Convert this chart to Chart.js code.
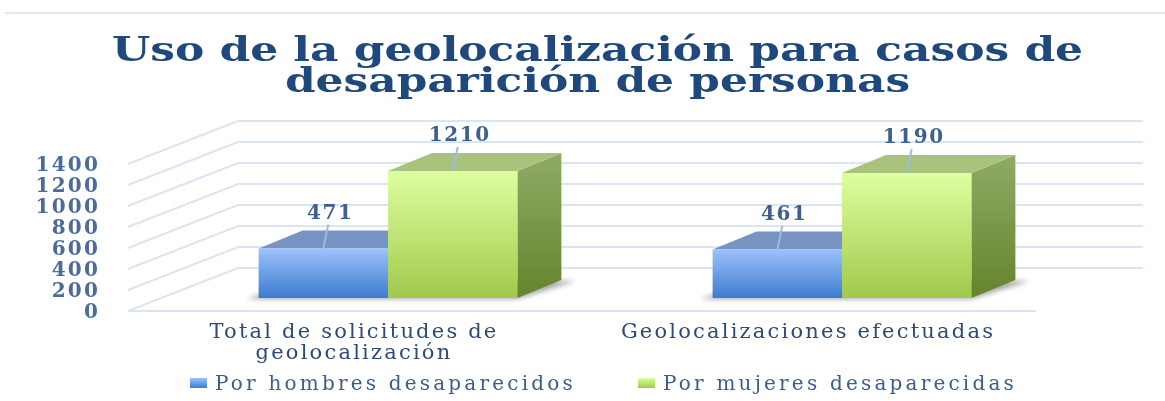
<!DOCTYPE html>
<html>
<head>
<meta charset="utf-8">
<script src="https://cdn.jsdelivr.net/npm/chart.js@4"></script>
<style>
  html, body { margin: 0; padding: 0; background: #fff; }
  #wrap { position: relative; width: 1165px; height: 401px; overflow: hidden; }
  #topline { position: absolute; top: 12px; left: 5px; width: 1160px; height: 2px; background: #dfe7f0; }
  #title { position: absolute; top: 34px; left: 15px; width: 1165px; text-align: center;
           font-family: "DejaVu Serif"; font-weight: bold; font-size: 33px; line-height: 31px; color: #1f497d;
           transform: scaleX(1.33); transform-origin: center; }
  .leg { position: absolute; top: 371px; font-family: "DejaVu Serif"; font-size: 20px; color: #3b5d8f; white-space: nowrap; letter-spacing: 3.2px; }
  .leg i { display: inline-block; width: 17px; height: 10px; margin-right: 8px; vertical-align: 2px; }
</style>
</head>
<body>
<div id="wrap">
  <canvas id="mycanvas" width="1165" height="401"></canvas>
  <div id="topline"></div>
  <div id="title"></div>
  <div id="legend"></div>
</div>
<script>
// data
var titleLines = ['Uso de la geolocalización para casos de', 'desaparición de personas'];
var categories = [['Total de solicitudes de', 'geolocalización'], 'Geolocalizaciones efectuadas'];
var seriesNames = ['Por hombres desaparecidos', 'Por mujeres desaparecidas'];
var hombres = [471, 461];
var mujeres = [1210, 1190];
var yMax = 1400;
var yStep = 200;

// colours for the fake 3d boxes
var blue = { top: '#9cc2fc', bottom: '#3d7bcf', lid: '#7894c2', sideTop: '#5b84c4', sideBottom: '#2e5fa8' };
var green = { top: '#ddff9f', bottom: '#a1c94c', lid: '#a9c37c', sideTop: '#8fab66', sideBottom: '#65842c' };

// depth offsets (px)
var DX = 44, DY = -18;   // bar depth
var WX = 77, WY = -30;   // back wall
var FX = -33, FY = 13;   // front floor edge

function frontFill(c1, c2) {
  return function(c) {
    var chart = c.chart;
    if (!chart.chartArea || c.raw == null) return c2;
    var ys = chart.scales.y;
    var g = chart.ctx.createLinearGradient(0, ys.getPixelForValue(c.raw), 0, ys.getPixelForValue(0));
    g.addColorStop(0, c1);
    g.addColorStop(1, c2);
    return g;
  };
}

var box3d = {
  id: 'box3d',
  beforeDraw: function(chart) {
    // the original is a bit stretched sideways
    chart.ctx.letterSpacing = '2.2px';
  },
  afterDraw: function(chart) {
    chart.ctx.letterSpacing = '0px';
  },
  beforeDatasetsDraw: function(chart) {
    var ctx = chart.ctx, ca = chart.chartArea, ys = chart.scales.y;
    ctx.save();
    // walls
    ctx.strokeStyle = '#dbe5f2';
    ctx.lineWidth = 2;
    ys.ticks.forEach(function(t) {
      var py = ys.getPixelForValue(t.value);
      ctx.beginPath();
      ctx.moveTo(ca.left + FX, py + FY);
      ctx.lineTo(ca.left + WX, py + WY);
      ctx.lineTo(ca.right + WX - 3, py + WY);
      ctx.stroke();
    });
    var y0 = ys.getPixelForValue(0);
    ctx.beginPath();
    ctx.moveTo(ca.left + FX, y0 + FY);
    ctx.lineTo(ca.right + FX, y0 + FY);
    ctx.stroke();

    // shadows under each group
    var m0 = chart.getDatasetMeta(0), m1 = chart.getDatasetMeta(1);
    ctx.filter = 'blur(2.5px)';
    ctx.fillStyle = 'rgba(0,0,0,0.35)';
    m0.data.forEach(function(b, i) {
      var g = m1.data[i];
      var l = b.x - b.width / 2, r = g.x + g.width / 2, base = b.base;
      ctx.beginPath();
      ctx.moveTo(l - 12, base + 1);
      ctx.lineTo(r, base + 1);
      ctx.lineTo(r + DX + 14, base + DY + 1);
      ctx.lineTo(l + DX, base + DY);
      ctx.closePath();
      ctx.fill();
    });
    ctx.filter = 'none';

    // lids and sides
    [[m0, blue], [m1, green]].forEach(function(pair) {
      var col = pair[1];
      pair[0].data.forEach(function(b) {
        var l = b.x - b.width / 2, r = b.x + b.width / 2, top = b.y, base = b.base;
        var sg = ctx.createLinearGradient(0, top + DY, 0, base);
        sg.addColorStop(0, col.sideTop);
        sg.addColorStop(1, col.sideBottom);
        ctx.fillStyle = sg;
        ctx.beginPath();
        ctx.moveTo(r, top);
        ctx.lineTo(r + DX, top + DY);
        ctx.lineTo(r + DX, base + DY);
        ctx.lineTo(r, base);
        ctx.closePath();
        ctx.fill();
        ctx.fillStyle = col.lid;
        ctx.beginPath();
        ctx.moveTo(l, top);
        ctx.lineTo(r, top);
        ctx.lineTo(r + DX, top + DY);
        ctx.lineTo(l + DX, top + DY);
        ctx.closePath();
        ctx.fill();
      });
    });
    ctx.restore();
  },
  afterDatasetsDraw: function(chart) {
    var ctx = chart.ctx;
    ctx.save();
    ctx.letterSpacing = '1.6px';
    ctx.font = 'bold 20px "DejaVu Serif"';
    ctx.textAlign = 'center';
    ctx.textBaseline = 'middle';
    chart.data.datasets.forEach(function(ds, di) {
      chart.getDatasetMeta(di).data.forEach(function(b, i) {
        ctx.strokeStyle = '#9dbbe0';
        ctx.lineWidth = 2;
        ctx.beginPath();
        ctx.moveTo(b.x, b.y);
        ctx.lineTo(b.x + 5, b.y - 24);
        ctx.stroke();
        ctx.fillStyle = '#3f5f8f';
        ctx.fillText(String(ds.data[i]), b.x + 7, b.y - 35);
      });
    });
    ctx.restore();
  }
};

var ctx = document.getElementById('mycanvas');
var barGraph = new Chart(ctx, {
  type: 'bar',
  data: {
    labels: categories,
    datasets: [
      { label: seriesNames[0], data: hombres, backgroundColor: frontFill(blue.top, blue.bottom), barPercentage: 1, categoryPercentage: 0.57 },
      { label: seriesNames[1], data: mujeres, backgroundColor: frontFill(green.top, green.bottom), barPercentage: 1, categoryPercentage: 0.57 }
    ]
  },
  options: {
    responsive: false,
    animation: false,
    layout: { padding: { left: 0, right: 96, top: 151, bottom: 0 } },
    plugins: {
      legend: { display: false },
      tooltip: { enabled: false },
      title: { display: false }
    },
    scales: {
      x: {
        grid: { display: false, drawTicks: false },
        border: { display: false },
        ticks: { padding: 24, labelOffset: -34, maxRotation: 0, autoSkip: false, color: '#2d4b77',
                 font: { family: 'DejaVu Serif', size: 21, lineHeight: 1.0 } },
        afterFit: function(s) { s.height = 103; }
      },
      y: {
        min: 0, max: yMax,
        grid: { display: false, drawTicks: false },
        border: { display: false },
        ticks: { stepSize: yStep, autoSkip: false, padding: 61, labelOffset: 15, color: '#4a6b9c',
                 font: { family: 'DejaVu Serif', size: 20, weight: 'bold' },
                 callback: function(v) { return String(v); } },
        afterFit: function(s) { s.width = 161; }
      }
    }
  },
  plugins: [box3d]
});

// title
document.getElementById('title').innerHTML = titleLines.join('<br>');

// legend
var legendLeft = [190, 638];
var legendBox = [[blue.top, blue.bottom], [green.top, green.bottom]];
var legendDiv = document.getElementById('legend');
seriesNames.forEach(function(name, i) {
  var span = document.createElement('span');
  span.className = 'leg';
  span.style.left = legendLeft[i] + 'px';
  var box = document.createElement('i');
  box.style.background = 'linear-gradient(' + legendBox[i][0] + ',' + legendBox[i][1] + ')';
  span.appendChild(box);
  span.appendChild(document.createTextNode(name));
  legendDiv.appendChild(span);
});
</script>
</body>
</html>
